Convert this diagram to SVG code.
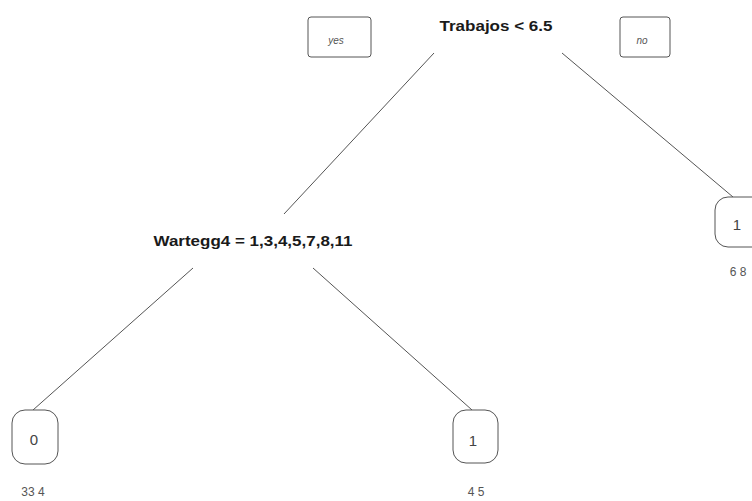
<svg xmlns="http://www.w3.org/2000/svg" width="752" height="501" viewBox="0 0 752 501">
<style>
.split{font-family:"Liberation Sans",Arial,sans-serif;font-weight:bold;font-size:15px;fill:#1a1a1a;text-anchor:middle}
.lbl{font-family:"Liberation Sans",Arial,sans-serif;font-size:10px;fill:#555;text-anchor:middle;font-style:italic}
.leaf{font-family:"Liberation Sans",Arial,sans-serif;font-size:15px;fill:#444;text-anchor:middle}
.cnt{font-family:"Liberation Sans",Arial,sans-serif;font-size:12px;fill:#555;text-anchor:middle}
.box{fill:#fff;stroke:#555;stroke-width:1}
.edge{stroke:#555;stroke-width:1;fill:none}
</style>
<rect width="752" height="501" fill="#fff"/>
<g id="connectors">
<line class="edge" x1="434" y1="53" x2="284" y2="214"/>
<line class="edge" x1="562" y1="53" x2="733" y2="197"/>
<line class="edge" x1="193" y1="268" x2="33" y2="410"/>
<line class="edge" x1="313" y1="268" x2="472" y2="410"/>
</g>
<g id="yes">
<rect class="box" x="308" y="17" width="63" height="40" rx="3"/>
<text class="lbl" x="336" y="44">yes</text>
</g>
<g id="no">
<rect class="box" x="620" y="17" width="50" height="40" rx="3"/>
<text class="lbl" x="642" y="44">no</text>
</g>
<g id="root">
<text class="split" x="496" y="31" textLength="113" lengthAdjust="spacingAndGlyphs">Trabajos &lt; 6.5</text>
</g>
<g id="wartegg">
<text class="split" x="253" y="246" textLength="199" lengthAdjust="spacingAndGlyphs">Wartegg4 = 1,3,4,5,7,8,11</text>
</g>
<g id="leaf_right">
<rect class="box" x="715" y="197" width="50" height="50" rx="13"/>
<text class="leaf" x="737" y="230">1</text>
<text class="cnt" x="738" y="276">6  8</text>
</g>
<g id="leaf_left">
<rect class="box" x="12" y="410" width="46" height="54" rx="13"/>
<text class="leaf" x="34" y="445">0</text>
<text class="cnt" x="33" y="496">33  4</text>
</g>
<g id="leaf_mid">
<rect class="box" x="453" y="410" width="45" height="53" rx="13"/>
<text class="leaf" x="473" y="446">1</text>
<text class="cnt" x="476" y="496">4  5</text>
</g>
</svg>
